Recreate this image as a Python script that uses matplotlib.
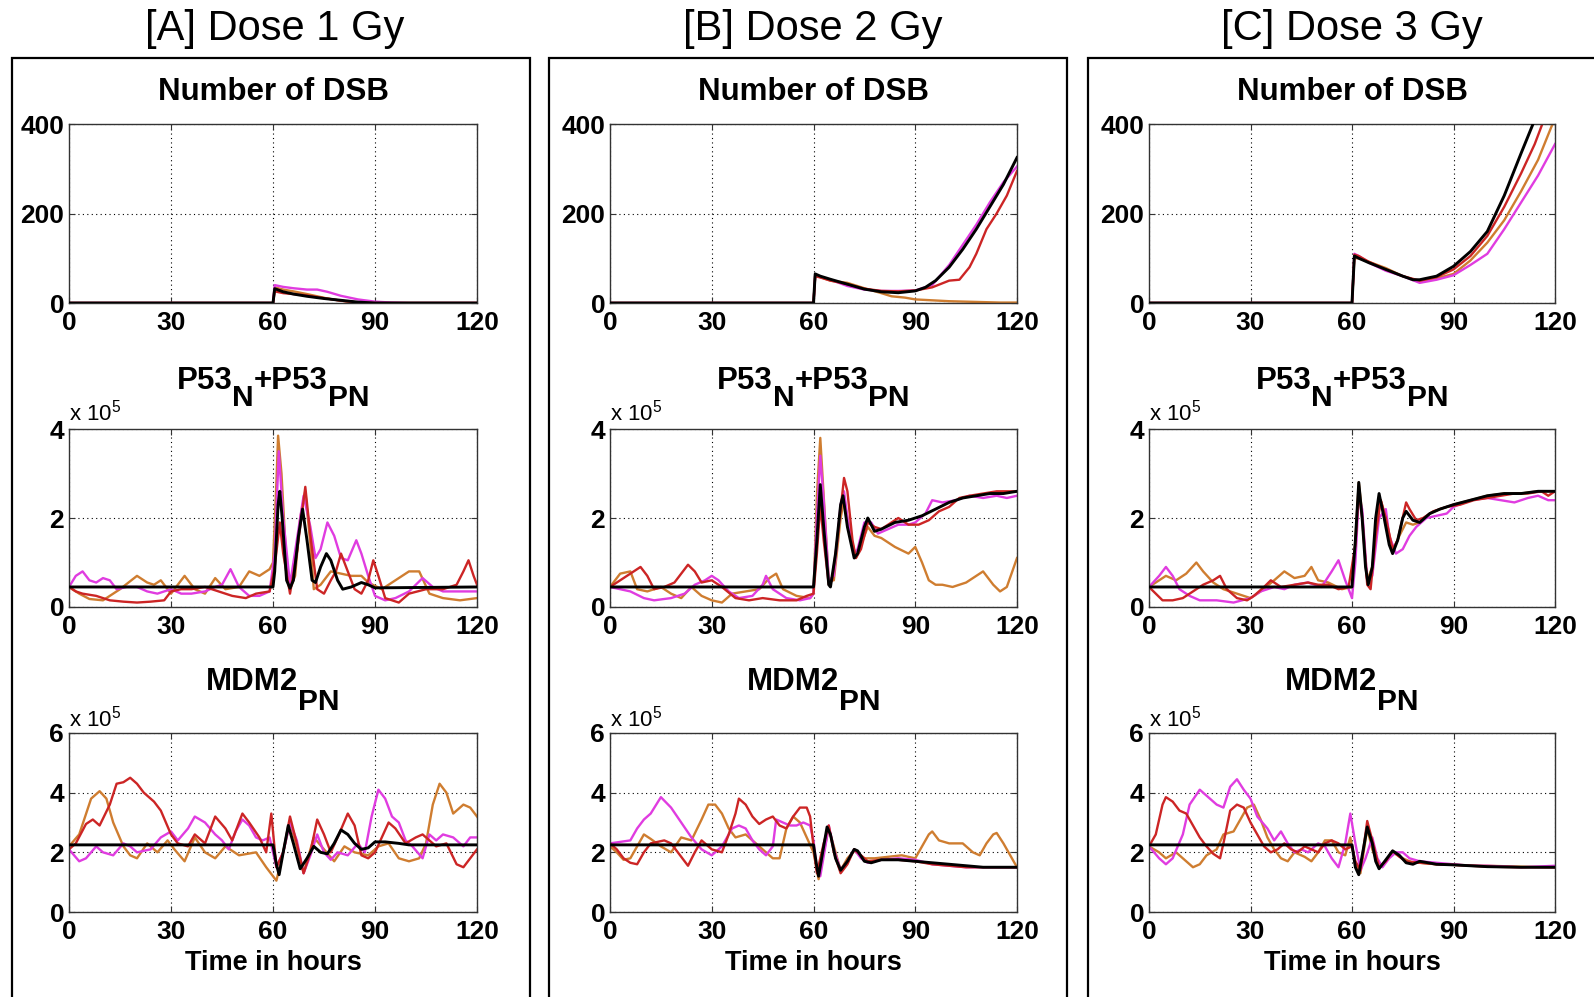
import matplotlib
matplotlib.use('Agg')
import matplotlib.pyplot as plt
from matplotlib.patches import Rectangle

# ---------------- DATA (P53 / MDM2 in units of 1e5) ----------------
dose_titles = ['[A] Dose 1 Gy', '[B] Dose 2 Gy', '[C] Dose 3 Gy']
x_ticks = [0, 30, 60, 90, 120]
dsb_ticks = [0, 200, 400]
p53_ticks = [0, 2, 4]
mdm2_ticks = [0, 2, 4, 6]

# ---- Panel A : DSB ----
A_dsb_black_t = [0, 60, 60.5, 63, 66, 70, 75, 80, 85, 90, 120]
A_dsb_black = [0, 0, 32, 25, 20, 15, 10, 6, 2, 0, 0]
A_dsb_magenta_t = [0, 60, 60.5, 63, 66, 70, 73, 76, 80, 85, 90, 95, 100, 120]
A_dsb_magenta = [0, 0, 40, 36, 33, 30, 30, 25, 16, 8, 3, 1, 0, 0]
A_dsb_red_t = [0, 60, 60.5, 63, 66, 70, 75, 80, 85, 90, 120]
A_dsb_red = [0, 0, 26, 22, 20, 17, 11, 5, 1, 0, 0]
A_dsb_orange_t = [0, 60, 60.5, 63, 66, 70, 76, 82, 88, 120]
A_dsb_orange = [0, 0, 35, 30, 26, 20, 10, 3, 0, 0]

# ---- Panel A : P53 ----
A_p53_black_t = [0, 60, 60.5, 61.5, 62, 62.7, 64, 65, 66, 67.5, 68.7, 70, 71.5, 72.5, 74, 75.7, 77, 79, 80.5, 83, 86, 88, 90, 120]
A_p53_black = [0.45, 0.45, 0.8, 2.3, 2.6, 2.0, 0.6, 0.42, 0.6, 1.6, 2.2, 1.5, 0.6, 0.55, 0.9, 1.2, 1.05, 0.6, 0.4, 0.45, 0.55, 0.5, 0.43, 0.45]
A_p53_orange_t = [0, 3, 6, 10, 15, 20, 23, 25, 27, 30, 34, 37, 40, 43, 46, 50, 53, 56, 59, 60, 61, 61.5, 62.5, 64, 65, 66.5, 68, 69.5, 71, 72, 74, 77, 80, 83, 86, 88, 92, 96, 100, 103, 106, 110, 115, 120]
A_p53_orange = [0.45, 0.3, 0.18, 0.15, 0.4, 0.7, 0.55, 0.5, 0.6, 0.3, 0.7, 0.4, 0.3, 0.65, 0.4, 0.45, 0.8, 0.7, 0.85, 1.0, 2.8, 3.85, 3.0, 0.9, 0.4, 0.7, 2.0, 2.6, 1.4, 0.4, 0.5, 0.8, 0.75, 0.7, 0.7, 0.55, 0.4, 0.6, 0.8, 0.8, 0.3, 0.2, 0.15, 0.2]
A_p53_magenta_t = [0, 2, 4, 6, 8, 10, 12, 14, 17, 20, 23, 26, 30, 33, 36, 40, 43, 45, 47.5, 50, 53, 56, 59, 60.5, 61.7, 63, 65, 67, 69, 71, 72.5, 74, 76, 78, 80, 82, 84.5, 86, 88, 90, 93, 96, 100, 104, 107, 110, 115, 120]
A_p53_magenta = [0.45, 0.7, 0.8, 0.6, 0.55, 0.65, 0.6, 0.4, 0.45, 0.45, 0.35, 0.3, 0.4, 0.3, 0.3, 0.35, 0.45, 0.5, 0.85, 0.45, 0.25, 0.25, 0.35, 1.2, 3.5, 2.0, 0.5, 1.5, 2.5, 1.8, 1.1, 1.3, 1.9, 1.6, 1.1, 1.05, 1.5, 1.2, 0.7, 0.25, 0.15, 0.2, 0.35, 0.65, 0.45, 0.35, 0.35, 0.35]
A_p53_red_t = [0, 2, 4, 8, 12, 16, 20, 24, 28, 30, 33, 36, 40, 44, 48, 52, 55, 59, 60.5, 62, 63, 65, 67, 69.5, 71, 73, 75, 77, 78.5, 80, 82, 84, 86, 88, 89.5, 91, 93, 97, 100, 105, 110, 114, 116, 117.5, 119, 120]
A_p53_red = [0.45, 0.35, 0.3, 0.25, 0.15, 0.12, 0.1, 0.12, 0.15, 0.35, 0.4, 0.4, 0.45, 0.35, 0.25, 0.2, 0.3, 0.35, 0.9, 1.9, 1.2, 0.3, 1.2, 2.7, 1.6, 0.4, 0.3, 0.6, 0.8, 1.2, 0.8, 0.4, 0.3, 0.6, 1.05, 0.7, 0.2, 0.1, 0.3, 0.4, 0.4, 0.5, 0.8, 1.05, 0.7, 0.5]

# ---- Panel A : MDM2 ----
A_mdm2_black_t = [0, 60, 61, 61.8, 63, 64.5, 66, 68, 70, 72, 74, 76, 78, 80, 82, 84, 86, 88, 90, 93, 97, 100, 120]
A_mdm2_black = [2.25, 2.25, 1.6, 1.25, 2.0, 2.9, 2.3, 1.45, 1.8, 2.2, 2.0, 1.95, 2.3, 2.75, 2.6, 2.3, 2.1, 2.15, 2.35, 2.35, 2.3, 2.25, 2.25]
A_mdm2_orange_t = [0, 3, 6.5, 9, 11, 13, 16, 18, 20, 23, 26, 29, 31, 34, 37, 40, 43, 46, 50, 55, 58, 61, 63, 65, 67, 69, 72, 75, 78, 81, 84, 88, 91, 94, 97, 100, 103, 105, 107, 109, 111, 113, 116, 118, 120]
A_mdm2_orange = [2.2, 2.6, 3.8, 4.05, 3.8, 3.0, 2.2, 1.9, 1.8, 2.3, 2.0, 2.4, 2.1, 1.7, 2.5, 2.0, 1.8, 2.2, 1.9, 2.0, 1.5, 1.05, 2.0, 3.0, 2.2, 1.3, 2.5, 2.1, 1.7, 2.2, 2.0, 1.9, 2.2, 2.3, 1.8, 1.7, 1.8, 2.3, 3.6, 4.3, 4.0, 3.3, 3.6, 3.5, 3.2]
A_mdm2_red_t = [0, 2, 5, 7, 9, 12, 14, 16, 18, 20, 22, 25, 27, 30, 32, 35, 37, 40, 43, 46, 48, 51, 53, 56, 58, 59.5, 61, 63, 65, 67, 69, 71, 73, 75, 77, 79, 82, 84, 86, 88, 90, 94, 96, 99, 102, 104, 106, 108, 111, 114, 116, 118, 120]
A_mdm2_red = [2.1, 2.3, 2.95, 3.1, 2.9, 3.6, 4.3, 4.35, 4.5, 4.3, 4.0, 3.7, 3.4, 2.6, 2.3, 2.2, 2.6, 2.3, 3.2, 2.8, 2.4, 3.3, 3.0, 2.5, 2.0, 3.3, 1.5, 2.0, 3.2, 2.3, 1.3, 2.0, 3.1, 2.6, 2.0, 2.5, 3.3, 2.9, 1.9, 1.8, 2.0, 3.0, 2.8, 2.3, 2.5, 2.6, 2.4, 2.2, 2.3, 1.6, 1.5, 1.8, 2.1]
A_mdm2_magenta_t = [0, 3, 5, 8, 10, 13, 16, 18, 20, 24, 27, 30, 32, 35, 37, 40, 43, 45, 47, 49, 51, 53, 55, 57, 59, 61, 63, 65, 67, 69, 71, 73, 75, 77, 79, 82, 85, 87, 89, 91, 93, 95, 97, 99, 101, 104, 106, 108, 110, 113, 116, 118, 120]
A_mdm2_magenta = [2.1, 1.7, 1.8, 2.2, 2.0, 1.9, 2.3, 2.2, 2.0, 2.1, 2.5, 2.7, 2.4, 2.8, 3.2, 3.0, 2.6, 2.4, 2.1, 2.7, 3.1, 2.9, 2.5, 2.4, 2.5, 1.5, 2.0, 3.0, 2.4, 1.3, 1.9, 2.6, 2.0, 1.75, 2.0, 1.9, 2.3, 2.0, 3.2, 4.1, 3.8, 3.2, 3.0, 2.4, 2.2, 1.8, 2.6, 2.4, 2.6, 2.5, 2.2, 2.5, 2.5]

# ---- Panel B : DSB ----
B_dsb_black_t = [0, 60, 60.5, 62, 65, 70, 75, 80, 85, 90, 93, 96, 100, 104, 108, 112, 116, 120]
B_dsb_black = [0, 0, 65, 60, 53, 42, 31, 25, 23, 27, 35, 50, 80, 120, 165, 215, 265, 325]
B_dsb_magenta_t = [0, 60, 60.5, 62, 65, 70, 75, 80, 85, 90, 95, 100, 104, 108, 112, 116, 120]
B_dsb_magenta = [0, 0, 62, 58, 52, 38, 30, 27, 27, 28, 40, 85, 130, 175, 225, 270, 305]
B_dsb_red_t = [0, 60, 60.5, 62, 65, 70, 75, 80, 85, 90, 95, 100, 103, 106, 108, 111, 114, 117, 120]
B_dsb_red = [0, 0, 60, 57, 50, 42, 32, 27, 26, 28, 35, 50, 52, 80, 110, 165, 200, 240, 295]
B_dsb_orange_t = [0, 60, 60.5, 62, 65, 70, 75, 80, 83, 87, 90, 95, 100, 105, 110, 115, 120]
B_dsb_orange = [0, 0, 62, 58, 50, 45, 33, 22, 15, 12, 8, 6, 4, 3, 2, 1, 1]

# ---- Panel B : P53 ----
B_p53_black_t = [0, 60, 61, 62, 63, 64.5, 65, 66.5, 68, 68.7, 70, 72, 73, 75, 76, 78, 80, 84, 88, 92, 96, 100, 104, 108, 112, 116, 120]
B_p53_black = [0.45, 0.45, 1.5, 2.75, 1.8, 0.5, 0.45, 1.2, 2.3, 2.5, 1.8, 1.1, 1.2, 1.8, 2.0, 1.7, 1.75, 1.9, 1.95, 2.05, 2.2, 2.35, 2.45, 2.5, 2.55, 2.55, 2.6]
B_p53_orange_t = [0, 3, 6, 8, 11, 15, 18, 21, 24, 27, 30, 33, 36, 40, 44, 47, 49, 51, 55, 59, 60, 61, 62, 63, 64.5, 66, 68, 69, 71, 72.5, 74, 76, 78, 80, 84, 88, 90, 92, 94, 96, 98, 101, 105, 110, 113, 115, 117, 120]
B_p53_orange = [0.45, 0.75, 0.8, 0.4, 0.35, 0.45, 0.3, 0.2, 0.45, 0.25, 0.15, 0.1, 0.3, 0.35, 0.4, 0.65, 0.75, 0.4, 0.25, 0.2, 0.3, 2.5, 3.8, 2.5, 0.6, 0.6, 2.0, 2.4, 1.6, 1.1, 1.4, 1.8, 1.6, 1.55, 1.35, 1.2, 1.35, 1.0, 0.6, 0.5, 0.5, 0.45, 0.55, 0.8, 0.5, 0.35, 0.45, 1.1]
B_p53_red_t = [0, 3, 6, 9, 11, 13, 16, 19, 23, 25, 27, 30, 33, 37, 41, 45, 50, 55, 58, 60, 61, 62, 63, 64.5, 65.5, 67, 69, 70, 71.5, 72.5, 74, 76, 78, 80, 83, 85, 88, 91, 94, 97, 100, 103, 106, 110, 114, 117, 120]
B_p53_red = [0.45, 0.6, 0.75, 0.9, 0.7, 0.4, 0.45, 0.55, 0.95, 0.8, 0.55, 0.6, 0.45, 0.2, 0.15, 0.2, 0.15, 0.15, 0.25, 0.3, 1.2, 2.3, 1.5, 0.5, 0.6, 1.5, 2.9, 2.6, 1.5, 1.1, 1.3, 1.9, 1.8, 1.75, 1.9, 2.0, 1.85, 1.85, 1.95, 2.15, 2.25, 2.45, 2.5, 2.55, 2.6, 2.6, 2.6]
B_p53_magenta_t = [0, 3, 6, 10, 13, 18, 22, 25, 28, 30, 32, 35, 38, 42, 45, 46, 48, 52, 56, 59, 60, 61, 62, 63, 64.5, 66, 68, 69, 70, 72, 73, 75, 77, 79, 82, 85, 88, 90, 93, 95, 98, 102, 106, 110, 114, 117, 120]
B_p53_magenta = [0.45, 0.4, 0.35, 0.2, 0.15, 0.2, 0.3, 0.5, 0.6, 0.7, 0.6, 0.35, 0.2, 0.25, 0.5, 0.7, 0.4, 0.2, 0.15, 0.2, 0.3, 2.0, 3.4, 2.4, 0.6, 0.7, 2.3, 2.6, 2.0, 1.2, 1.3, 1.9, 1.9, 1.65, 1.75, 1.85, 1.85, 1.9, 2.1, 2.4, 2.35, 2.4, 2.5, 2.45, 2.5, 2.45, 2.5]

# ---- Panel B : MDM2 ----
B_mdm2_black_t = [0, 60, 61, 61.5, 63, 64, 65, 66.5, 68, 70, 72, 73, 75, 77, 80, 85, 90, 95, 100, 105, 110, 115, 120]
B_mdm2_black = [2.25, 2.25, 1.5, 1.2, 2.2, 2.85, 2.6, 1.8, 1.4, 1.7, 2.1, 2.05, 1.7, 1.65, 1.75, 1.75, 1.7, 1.65, 1.6, 1.55, 1.5, 1.5, 1.5]
B_mdm2_magenta_t = [0, 3, 6, 8, 10, 12, 15, 18, 21, 24, 27, 30, 33, 36, 38, 40, 42, 44, 46, 48, 49, 51, 53, 55, 57, 59, 60, 61, 62, 63.5, 64.5, 66, 68, 70, 72, 74, 76, 80, 85, 90, 95, 100, 105, 110, 115, 120]
B_mdm2_magenta = [2.3, 2.35, 2.4, 2.8, 3.1, 3.3, 3.85, 3.5, 3.0, 2.5, 2.1, 1.9, 2.2, 2.8, 2.9, 2.8, 2.4, 2.1, 1.9, 2.2, 3.1, 3.0, 2.9, 2.9, 3.0, 2.9, 2.4, 1.4, 1.2, 2.2, 2.9, 2.1, 1.4, 1.7, 2.1, 1.8, 1.65, 1.75, 1.8, 1.75, 1.6, 1.55, 1.5, 1.5, 1.5, 1.5]
B_mdm2_orange_t = [0, 2, 4, 6, 9, 10, 12, 15, 18, 21, 24, 27, 29, 31, 33, 35, 37, 40, 43, 46, 48, 50, 52, 54, 56, 58, 60, 61.5, 63, 64.5, 66, 68, 70, 72, 75, 78, 82, 86, 90, 92, 94, 95, 97, 100, 104, 107, 109, 111, 113, 114, 116, 118, 120]
B_mdm2_orange = [2.2, 2.0, 1.75, 1.8, 2.4, 2.6, 2.45, 2.2, 2.0, 2.5, 2.4, 3.1, 3.6, 3.6, 3.3, 2.8, 2.5, 2.6, 2.3, 2.0, 1.8, 1.8, 2.8, 3.2, 3.0, 2.5, 2.0, 1.1, 2.0, 2.8, 2.2, 1.4, 1.8, 2.05, 1.8, 1.8, 1.85, 1.9, 1.8, 2.2, 2.6, 2.7, 2.4, 2.3, 2.3, 2.0, 1.9, 2.3, 2.6, 2.65, 2.3, 1.9, 1.5]
B_mdm2_red_t = [0, 2, 4, 6, 8, 10, 12, 14, 16, 18, 20, 22, 23, 25, 27, 30, 33, 35, 37, 38, 40, 42, 44, 46, 48, 50, 52, 54, 56, 58, 59, 60, 61, 63, 64.5, 66, 68, 70, 72, 74, 76, 80, 85, 90, 95, 100, 105, 110, 115, 120]
B_mdm2_red = [2.3, 2.1, 1.8, 1.65, 1.6, 2.0, 2.3, 2.35, 2.4, 2.3, 2.0, 1.7, 1.55, 2.0, 2.4, 2.1, 2.0, 2.6, 3.3, 3.8, 3.6, 3.2, 2.95, 3.1, 3.2, 2.9, 2.8, 3.2, 3.5, 3.5, 3.2, 2.2, 1.3, 2.3, 2.9, 2.0, 1.3, 1.6, 2.1, 1.9, 1.7, 1.75, 1.75, 1.7, 1.6, 1.55, 1.5, 1.5, 1.5, 1.5]

# ---- Panel C : DSB ----
C_dsb_black_t = [0, 60, 60.7, 62, 65, 70, 75, 78, 80, 85, 90, 95, 100, 105, 110, 113.5, 116]
C_dsb_black = [0, 0, 105, 100, 90, 75, 60, 52, 52, 60, 82, 115, 160, 240, 335, 400, 450]
C_dsb_red_t = [0, 60, 60.7, 62, 65, 70, 75, 80, 85, 90, 95, 100, 105, 110, 114, 116.5, 119]
C_dsb_red = [0, 0, 108, 105, 92, 75, 60, 50, 58, 75, 105, 150, 215, 290, 355, 405, 450]
C_dsb_orange_t = [0, 60, 60.7, 62, 65, 70, 75, 80, 85, 90, 95, 100, 105, 110, 115, 119, 120]
C_dsb_orange = [0, 0, 100, 100, 92, 78, 60, 48, 55, 65, 95, 135, 185, 250, 320, 395, 410]
C_dsb_magenta_t = [0, 60, 60.7, 62, 65, 70, 75, 80, 85, 90, 95, 100, 105, 110, 115, 120]
C_dsb_magenta = [0, 0, 110, 105, 90, 72, 60, 45, 52, 62, 85, 110, 165, 225, 285, 355]

# ---- Panel C : P53 ----
C_p53_black_t = [0, 60, 61, 62, 63, 64, 64.8, 66, 67, 68, 69.5, 71, 72, 73.5, 75, 76, 78, 80, 83, 86, 90, 95, 100, 105, 110, 115, 120]
C_p53_black = [0.45, 0.45, 1.5, 2.8, 2.0, 0.9, 0.5, 0.9, 2.0, 2.55, 2.0, 1.4, 1.2, 1.5, 2.0, 2.15, 1.95, 1.9, 2.1, 2.2, 2.3, 2.4, 2.5, 2.55, 2.55, 2.6, 2.6]
C_p53_magenta_t = [0, 3, 5, 7, 9, 12, 15, 20, 25, 30, 33, 37, 40, 43, 47, 51, 54, 56, 58, 60, 61, 62, 63, 64.5, 66, 68, 70, 71, 73, 75, 77, 79, 82, 85, 88, 90, 95, 100, 104, 108, 112, 115, 118, 120]
C_p53_magenta = [0.45, 0.7, 0.9, 0.7, 0.4, 0.25, 0.15, 0.15, 0.1, 0.2, 0.35, 0.45, 0.4, 0.5, 0.55, 0.45, 0.8, 1.05, 0.6, 0.2, 1.0, 2.5, 2.2, 0.6, 0.7, 2.0, 2.2, 1.6, 1.2, 1.3, 1.6, 1.8, 2.0, 2.05, 2.1, 2.25, 2.4, 2.45, 2.4, 2.35, 2.45, 2.5, 2.4, 2.4]
C_p53_orange_t = [0, 3, 5, 8, 11, 14, 16, 19, 22, 26, 30, 33, 37, 40, 43, 46, 48, 50, 53, 57, 60, 61, 62, 63, 64.5, 66, 67.5, 68.5, 70, 72, 74, 76, 78, 80, 83, 86, 90, 95, 100, 105, 110, 115, 120]
C_p53_orange = [0.45, 0.6, 0.7, 0.6, 0.75, 1.0, 0.8, 0.55, 0.4, 0.3, 0.2, 0.35, 0.6, 0.8, 0.65, 0.7, 0.9, 0.6, 0.55, 0.4, 0.45, 1.5, 2.8, 2.1, 0.6, 0.9, 2.0, 2.4, 2.0, 1.25, 1.6, 1.9, 1.85, 1.9, 2.1, 2.2, 2.3, 2.4, 2.5, 2.55, 2.55, 2.6, 2.6]
C_p53_red_t = [0, 2, 4, 7, 10, 13, 16, 19, 21, 23, 26, 29, 31, 34, 36, 39, 43, 47, 50, 53, 56, 59, 61, 62, 63, 64.5, 65.5, 67, 68.5, 70, 72, 73.5, 76, 77, 79, 81, 84, 88, 92, 96, 100, 104, 108, 112, 116, 118, 120]
C_p53_red = [0.45, 0.3, 0.15, 0.15, 0.2, 0.35, 0.5, 0.6, 0.7, 0.4, 0.2, 0.15, 0.25, 0.45, 0.6, 0.45, 0.5, 0.55, 0.5, 0.5, 0.4, 0.45, 1.4, 2.6, 2.0, 0.5, 0.4, 1.6, 2.4, 2.0, 1.3, 1.5, 2.35, 2.2, 1.95, 2.0, 2.15, 2.25, 2.3, 2.4, 2.45, 2.5, 2.55, 2.55, 2.6, 2.5, 2.6]

# ---- Panel C : MDM2 ----
C_mdm2_black_t = [0, 60, 61, 62, 63.5, 64.5, 66, 67, 68, 70, 72, 74, 76, 78, 80, 85, 90, 95, 100, 110, 120]
C_mdm2_black = [2.25, 2.25, 1.5, 1.25, 2.2, 2.85, 2.3, 1.7, 1.45, 1.75, 2.05, 1.9, 1.65, 1.6, 1.7, 1.6, 1.58, 1.55, 1.52, 1.5, 1.5]
C_mdm2_magenta_t = [0, 3, 5, 7, 10, 12, 15, 17, 20, 22, 24, 26, 28, 30, 32, 35, 37, 39, 41, 43, 45, 47, 50, 52, 54, 56, 58, 59.5, 61, 62.5, 64, 66, 67.5, 69, 71, 73, 75, 77, 80, 85, 90, 95, 100, 110, 120]
C_mdm2_magenta = [2.2, 1.8, 1.6, 1.8, 2.6, 3.6, 4.1, 3.9, 3.6, 3.5, 4.2, 4.45, 4.1, 3.8, 3.2, 2.8, 2.4, 2.7, 2.3, 2.0, 2.1, 2.0, 2.3, 2.2, 1.8, 1.5, 2.3, 3.3, 2.3, 1.4, 1.8, 2.5, 1.8, 1.5, 1.8, 2.0, 2.0, 1.8, 1.7, 1.65, 1.6, 1.55, 1.55, 1.5, 1.55]
C_mdm2_red_t = [0, 2, 4, 5, 7, 9, 11, 13, 15, 17, 19, 21, 22, 24, 26, 28, 30, 32, 34, 36, 38, 40, 42, 44, 46, 48, 50, 52, 54, 56, 58, 60, 61, 62.5, 64.5, 66, 68, 70, 72, 74, 76, 80, 85, 90, 100, 110, 120]
C_mdm2_red = [2.2, 2.6, 3.6, 3.85, 3.7, 3.4, 3.3, 2.9, 2.5, 2.2, 1.95, 1.8, 2.3, 3.4, 3.6, 3.5, 3.0, 2.6, 2.2, 2.0, 2.1, 2.3, 2.1, 2.0, 2.2, 2.1, 2.0, 2.3, 2.4, 2.3, 2.1, 2.2, 1.7, 1.4, 3.05, 2.4, 1.5, 1.7, 2.05, 1.85, 1.7, 1.65, 1.6, 1.58, 1.52, 1.5, 1.5]
C_mdm2_orange_t = [0, 3, 5, 8, 11, 13, 15, 17, 20, 22, 25, 27, 29, 31, 33, 35, 37, 39, 41, 43, 46, 48, 50, 52, 54, 56, 58, 59.5, 61, 62.5, 64.5, 66, 68, 70, 72, 75, 78, 80, 85, 90, 100, 110, 120]
C_mdm2_orange = [2.2, 2.0, 1.8, 2.0, 1.7, 1.5, 1.6, 1.9, 2.1, 2.6, 2.7, 3.1, 3.5, 3.6, 3.1, 2.5, 2.1, 1.8, 1.7, 2.0, 1.85, 1.7, 2.0, 2.4, 2.4, 2.0, 1.9, 2.5, 1.6, 1.3, 2.8, 2.1, 1.5, 1.7, 2.0, 1.8, 1.65, 1.65, 1.6, 1.58, 1.55, 1.52, 1.5]

# ---------------- STYLE / LAYOUT ----------------
W, H, DPI = 1594, 997, 100
plt.rcParams['font.family'] = ['Liberation Sans', 'DejaVu Sans']
plt.rcParams['mathtext.fontset'] = 'custom'
plt.rcParams['mathtext.rm'] = 'Liberation Sans'
plt.rcParams['mathtext.it'] = 'Liberation Sans'

COLORS = {'orange': '#cf7d30', 'magenta': '#e03ce0', 'red': '#cc2525', 'black': '#000000'}
ORDER = ['orange', 'magenta', 'red', 'black']

TICK_FS = 19
SUB_FS = 22.5
DOSE_FS = 30
EXP_FS = 16
XLAB_FS = 19.5

fig = plt.figure(figsize=(W / DPI, H / DPI), dpi=DPI)
fig.patch.set_facecolor('white')


def fx(x):
    return x / W


def fy(y):
    return 1 - y / H


cols_x = [(69, 477), (610, 1017), (1149, 1555)]
rows_y = [(124, 303), (429, 607), (733, 912)]
frames_x = [(12, 530), (549, 1067), (1088, 1610)]
dose_cx = [275, 813, 1352]

g = globals()
panels = ['A', 'B', 'C']
variables = ['dsb', 'p53', 'mdm2']
ylims = [(0, 400), (0, 4), (0, 6)]
yticks_all = [dsb_ticks, p53_ticks, mdm2_ticks]

renderer = fig.canvas.get_renderer()


def rich(cx, base_y, pieces):
    objs = []
    total = 0
    for s, size, dy in pieces:
        t = fig.text(0, 0, s, fontsize=size, fontweight='bold', ha='left', va='baseline')
        w = t.get_window_extent(renderer).width
        objs.append((t, w, dy))
        total += w
    x = cx - total / 2
    for t, w, dy in objs:
        t.set_position((fx(x), fy(base_y + dy)))
        x += w


for ci, P in enumerate(panels):
    fl, fr = frames_x[ci]
    fig.add_artist(Rectangle((fx(fl), fy(1020)), (fr - fl) / W, (1020 - 58) / H,
                             transform=fig.transFigure, fill=False, lw=1.6,
                             ec='black', clip_on=False))
    fig.text(fx(dose_cx[ci]), fy(40), dose_titles[ci], fontsize=DOSE_FS,
             ha='center', va='baseline')
    l, r = cols_x[ci]
    cx = (l + r) / 2
    for ri, var in enumerate(variables):
        t, b = rows_y[ri]
        ax = fig.add_axes([fx(l), fy(b), (r - l) / W, (b - t) / H])
        for c in ORDER:
            tt = g[f'{P}_{var}_{c}_t']
            vv = g[f'{P}_{var}_{c}']
            ax.plot(tt, vv, color=COLORS[c], lw=2.1 if c == 'black' else 1.7,
                    zorder=3 if c == 'black' else 2, solid_joinstyle='round')
        ax.set_xlim(0, 120)
        ax.set_ylim(*ylims[ri])
        ax.set_xticks(x_ticks)
        ax.set_yticks(yticks_all[ri])
        ax.set_xticklabels([str(v) for v in x_ticks], fontsize=TICK_FS, fontweight='bold')
        ax.set_yticklabels([str(v) for v in yticks_all[ri]], fontsize=TICK_FS, fontweight='bold')
        ax.tick_params(axis='both', direction='in', length=4, width=0.8,
                       top=True, right=True, color='#333333')
        ax.tick_params(axis='x', pad=6)
        ax.tick_params(axis='y', pad=3.5)
        ax.grid(True, ls=(0, (1, 3)), color='black', lw=0.8)
        for s in ax.spines.values():
            s.set_color('#333333')
            s.set_linewidth(1.0)
        if var == 'dsb':
            fig.text(fx(cx), fy(100), 'Number of DSB', fontsize=SUB_FS,
                     fontweight='bold', ha='center', va='baseline')
        elif var == 'p53':
            rich(cx, 389, [('P53', SUB_FS, 0), ('N', SUB_FS - 1, 17),
                           ('+P53', SUB_FS, 0), ('PN', SUB_FS - 1, 17)])
            fig.text(fx(l), fy(421), r'x 10$^{5}$', fontsize=EXP_FS, ha='left', va='baseline')
        else:
            rich(cx, 690, [('MDM2', SUB_FS, 0), ('PN', SUB_FS - 1, 20)])
            fig.text(fx(l), fy(726), r'x 10$^{5}$', fontsize=EXP_FS, ha='left', va='baseline')
            fig.text(fx(cx), fy(970), 'Time in hours', fontsize=XLAB_FS,
                     fontweight='bold', ha='center', va='baseline')

fig.savefig('out.png', dpi=DPI, facecolor='white')
